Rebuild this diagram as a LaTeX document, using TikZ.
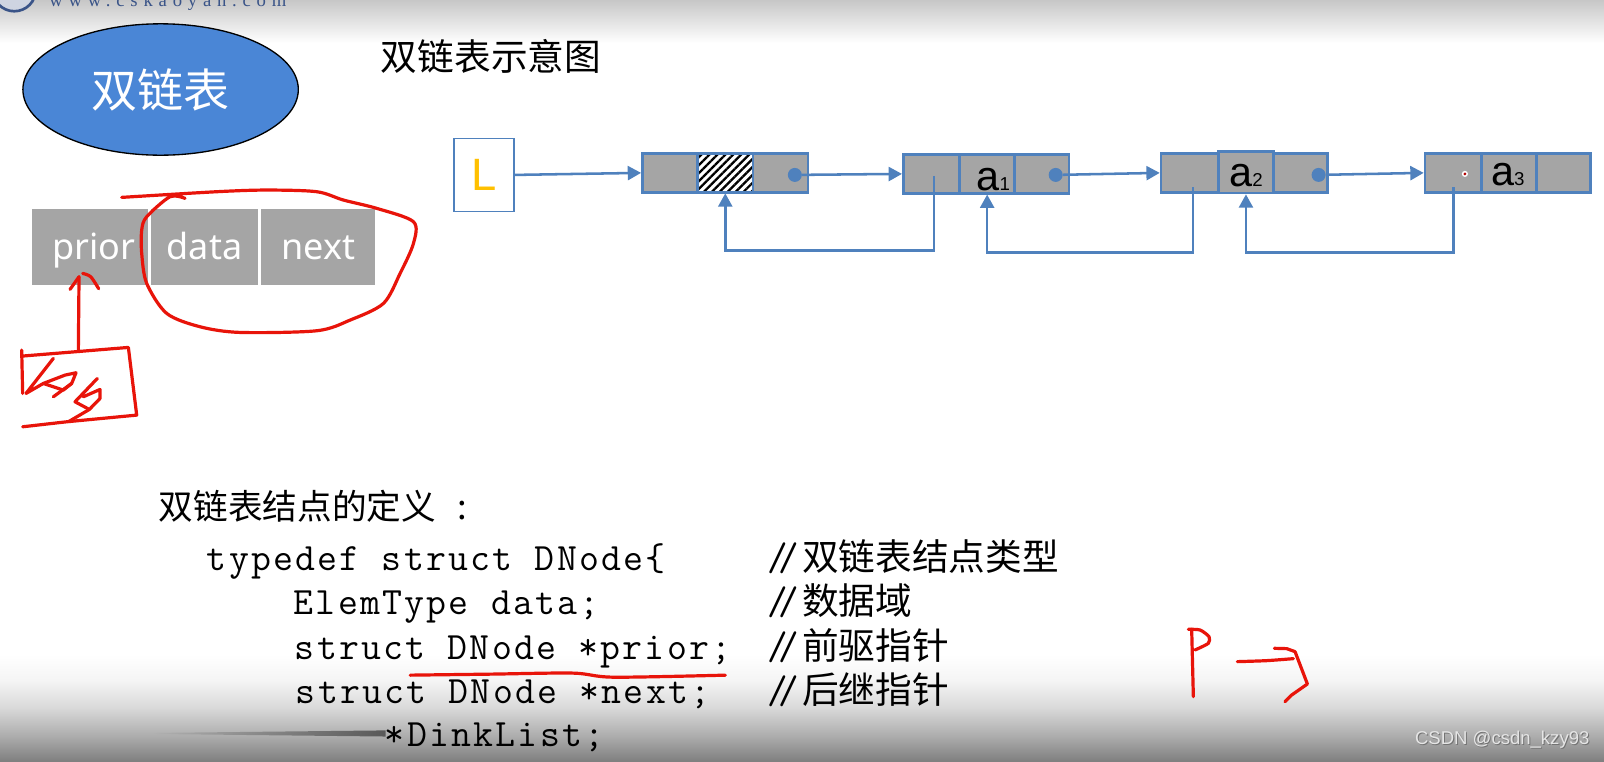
\documentclass[tikz,border=0pt]{standalone}
\usepackage{fontspec}
\usetikzlibrary{arrows.meta,shapes.geometric,patterns.meta,calc,fadings}
\setmainfont{Liberation Sans}
\newfontfamily\cjk{Noto Sans CJK SC}
\newfontfamily\ui{Noto Sans}
\newfontfamily\webfont[LetterSpace=31]{Liberation Serif}
\newfontfamily\codefont[LetterSpace=5.8]{Latin Modern Mono}
\newfontfamily\slashfont{Latin Modern Mono}
\definecolor{linkblue}{HTML}{4F81BD}
\definecolor{cellgrey}{HTML}{A5A5A5}
\definecolor{inkred}{HTML}{E8140A}
\definecolor{ellblue}{HTML}{4A86D6}
\definecolor{webblue}{HTML}{3A5488}
\pgfdeclareverticalshading{botgrad}{100bp}{color(0bp)=(black!50); color(25bp)=(black!50); color(37bp)=(black!32); color(50bp)=(black!15); color(63bp)=(black!4); color(75bp)=(white); color(100bp)=(white)}
\tikzfading[name=smearfade,left color=transparent!100,right color=transparent!0]
\newcommand{\dslash}{{\slashfont\fontsize{30}{32}\selectfont /\kern-7.5pt/}}
\tikzset{
  x=0.767pt,y=-0.767pt,
  listcell/.style={draw=linkblue,line width=2pt,fill=cellgrey,inner sep=0pt,minimum height=29pt,minimum width=#1*0.767pt},
  link/.style={draw=linkblue,line width=1.9pt,-{Triangle[length=10pt,width=10.5pt]}},
  dotnode/.style={circle,fill=linkblue,inner sep=0pt,minimum size=10.5pt},
  ink/.style={draw=inkred,line width=2.4pt,line cap=round,line join=round},
  txt/.style={inner sep=0pt,anchor=base west},
  codetxt/.style={txt,font=\codefont\fontsize{29}{32}\selectfont},
  cmt/.style={txt,font=\cjk\fontsize{27.5}{30}\selectfont},
  celltext/.style={inner sep=0pt,anchor=base,font=\fontsize{31}{33}\selectfont},
  headcell/.style={fill=cellgrey,inner sep=0pt,minimum height=57pt,text=white,font=\ui\fontsize{27}{30}\selectfont,text height=24pt,text depth=4pt,minimum width=#1*0.767pt}
}
\begin{document}
\begin{tikzpicture}
\useasboundingbox (0,0) rectangle (1568,744);
% backdrop
\fill[white] (0,0) rectangle (1568,744);
\shade[top color=black!22,bottom color=white] (0,0) rectangle (1568,42);
\shade[shading=botgrad] (0,640) rectangle (1568,744);
% logo and site name
\begin{scope}
\clip (0,0) rectangle (1568,744);
\draw[webblue,line width=2pt,fill=webblue!25] (14,-10) circle (21);
\node[txt,text=webblue] (site) at (48,6) {\webfont\fontsize{14}{16}\selectfont www.cskaoyan.com};
\end{scope}
% ellipse title
\node[ellipse,draw=black,line width=1pt,fill=ellblue,minimum width=206.5pt,minimum height=98.5pt,inner sep=0pt,text=white,font=\cjk\fontsize{34.5}{36}\selectfont] (title) at (157,87.5) {双链表};
% field cells
\node[headcell=113] (prior) at (88,241) {\hspace{6pt}prior};
\node[headcell=105] (data) at (200,241) {data};
\node[headcell=112] (next) at (311,241) {next};
% heading
\node[inner sep=0pt,font=\cjk\fontsize{27.5}{30}\selectfont] (head) at (480,55) {双链表示意图};
% head pointer
\node[draw=linkblue,line width=1.1pt,fill=white,minimum width=45pt,minimum height=55pt,inner sep=0pt,text={rgb,255:red,255;green,192;blue,0},font=\fontsize{34}{36}\selectfont] (L) at (473,171) {L};
% list node 0
\node[listcell=54] (n0a) at (655,169) {};
\node[listcell=54,pattern={Lines[angle=45,distance=4.2pt,line width=1.7pt]},preaction={fill=white}] (n0b) at (709,169) {};
\node[listcell=54] (n0c) at (763,169) {};
\node[dotnode] (d0) at (777,171) {};
% list node 1
\node[listcell=55] (n1a) at (910.5,170) {};
\node[listcell=54] (n1b) at (965,170) {};
\node[listcell=53] (n1c) at (1018.5,170) {};
\node[dotnode] (d1) at (1032,171) {};
\node[celltext] (t1) at (971,186) {a\fontsize{14}{16}\selectfont 1};
% list node 2
\node[listcell=56] (n2a) at (1163,169) {};
\node[listcell=54,minimum height=31pt] (n2b) at (1218,168.5) {};
\node[listcell=53] (n2c) at (1271.5,169) {};
\node[dotnode] (d2) at (1289,171) {};
\node[celltext] (t2) at (1218,182) {a\fontsize{14}{16}\selectfont 2};
% list node 3
\node[listcell=55] (n3a) at (1420.5,169) {};
\node[listcell=54] (n3b) at (1475,169) {};
\node[listcell=53] (n3c) at (1528.5,169) {};
\node[celltext] (t3) at (1474,181) {a\fontsize{14}{16}\selectfont 3};
\fill[white] (1432,170) circle (3);
\fill[red!70!black] (1432,170) circle (1.5);
% forward links
\draw[link] (L.east) -- (n0a.west);
\draw[link] (d0) -- (n1a.west);
\draw[link] (d1) -- (n2a.west);
\draw[link] (d2) -- (n3a.west);
% back links
\coordinate (s1) at (913,172);
\coordinate (c1) at (913,245);
\coordinate (s2) at (1166,183);
\coordinate (c2) at (1166,247);
\coordinate (s3) at (1421,183);
\coordinate (c3) at (1421,247);
\draw[link] (s1) -- (c1) -| (n0b.south);
\draw[link] (s2) -- (c2) -| (n1b.south);
\draw[link] (s3) -- (c3) -| (n2b.south);
% definition text
\node[txt,font=\cjk\fontsize{26}{30}\selectfont] (deftitle) at (155,508) {双链表结点的定义\kern 16pt:};
\node[codetxt] (l1) at (202,558) {typedef struct DNode\{};
\node[codetxt] (l2) at (287,601) {ElemType data;};
\node[codetxt] (l3) at (288,645) {struct DNode *prior;};
\node[codetxt] (l4) at (289,688) {struct DNode *next;};
\fill[black!65,path fading=smearfade] (150,716.5) -- (377,714) -- (377,720) -- (150,717.5) -- cycle;
\node[codetxt] (l5) at (376,730) {*DinkList;};
\node[txt] (m1a) at (750,558) {\dslash};
\node[cmt] (m1) at (784,558) {双链表结点类型};
\node[txt] (m2a) at (750,601) {\dslash};
\node[cmt] (m2) at (784,601) {数据域};
\node[txt] (m3a) at (750,645) {\dslash};
\node[cmt] (m3) at (784,645) {前驱指针};
\node[txt] (m4a) at (750,688) {\dslash};
\node[cmt] (m4) at (784,688) {后继指针};
% watermark
\node[txt,text=black!55,font=\fontsize{13.9}{15}\selectfont] (wmshadow) at (1384,729) {CSDN @csdn\_kzy93};
\node[txt,text=white!90!black,font=\fontsize{13.9}{15}\selectfont] (wm) at (1383,728) {CSDN @csdn\_kzy93};
% handwriting in reference's pixel grid x 3
\begin{scope}[x=0.25pt,y=-0.25pt]
\draw[ink] plot[smooth,tension=0.5] coordinates {(555,595) (510,590) (440,650) (425,690) (425,760) (440,850) (500,940) (600,980) (720,997) (950,992) (1050,960) (1150,910) (1200,820) (1240,730) (1240,665) (1130,625) (1030,600) (950,575) (800,570) (650,575) (365,592)};
\draw[ink] (235,1050) -- (237,830);
\draw[ink] (210,868) -- (237,830);
\draw[ink] plot[smooth,tension=0.5] coordinates {(248,820) (272,830) (296,866)};
\draw[ink] (65,1050) -- (68,1180) (66,1068) -- (385,1042) -- (410,1245) -- (200,1265) -- (68,1280);
\draw[ink] (160,1075) -- (78,1180) -- (130,1150) -- (195,1125) -- (228,1118) -- (215,1150) -- (160,1190);
\draw[ink] (130,1150) -- (190,1170) -- (215,1150);
\draw[ink] (292,1135) -- (225,1205) -- (268,1228) -- (300,1195) -- (300,1168) -- (250,1190);
\draw[ink] (268,1228) -- (205,1265);
\end{scope}
\draw[ink] plot[smooth,tension=0.5] coordinates {(401,660) (480,659) (560,658) (600,662) (709,660)};
\begin{scope}[shift={(1075.3,586.5)},x=0.25pt,y=-0.25pt]
\draw[ink] (280,290) -- (275,88);
\draw[ink] plot[smooth,tension=0.4] coordinates {(265,88) (300,90) (327,110) (325,130) (285,150)};
\draw[ink] plot[smooth,tension=0.4] coordinates {(412,185) (500,182) (580,176)};
\draw[ink] (523,145) -- (560,146) -- (585,155) -- (622,252) -- (575,285) -- (555,305);
\end{scope}
\end{tikzpicture}
\end{document}
